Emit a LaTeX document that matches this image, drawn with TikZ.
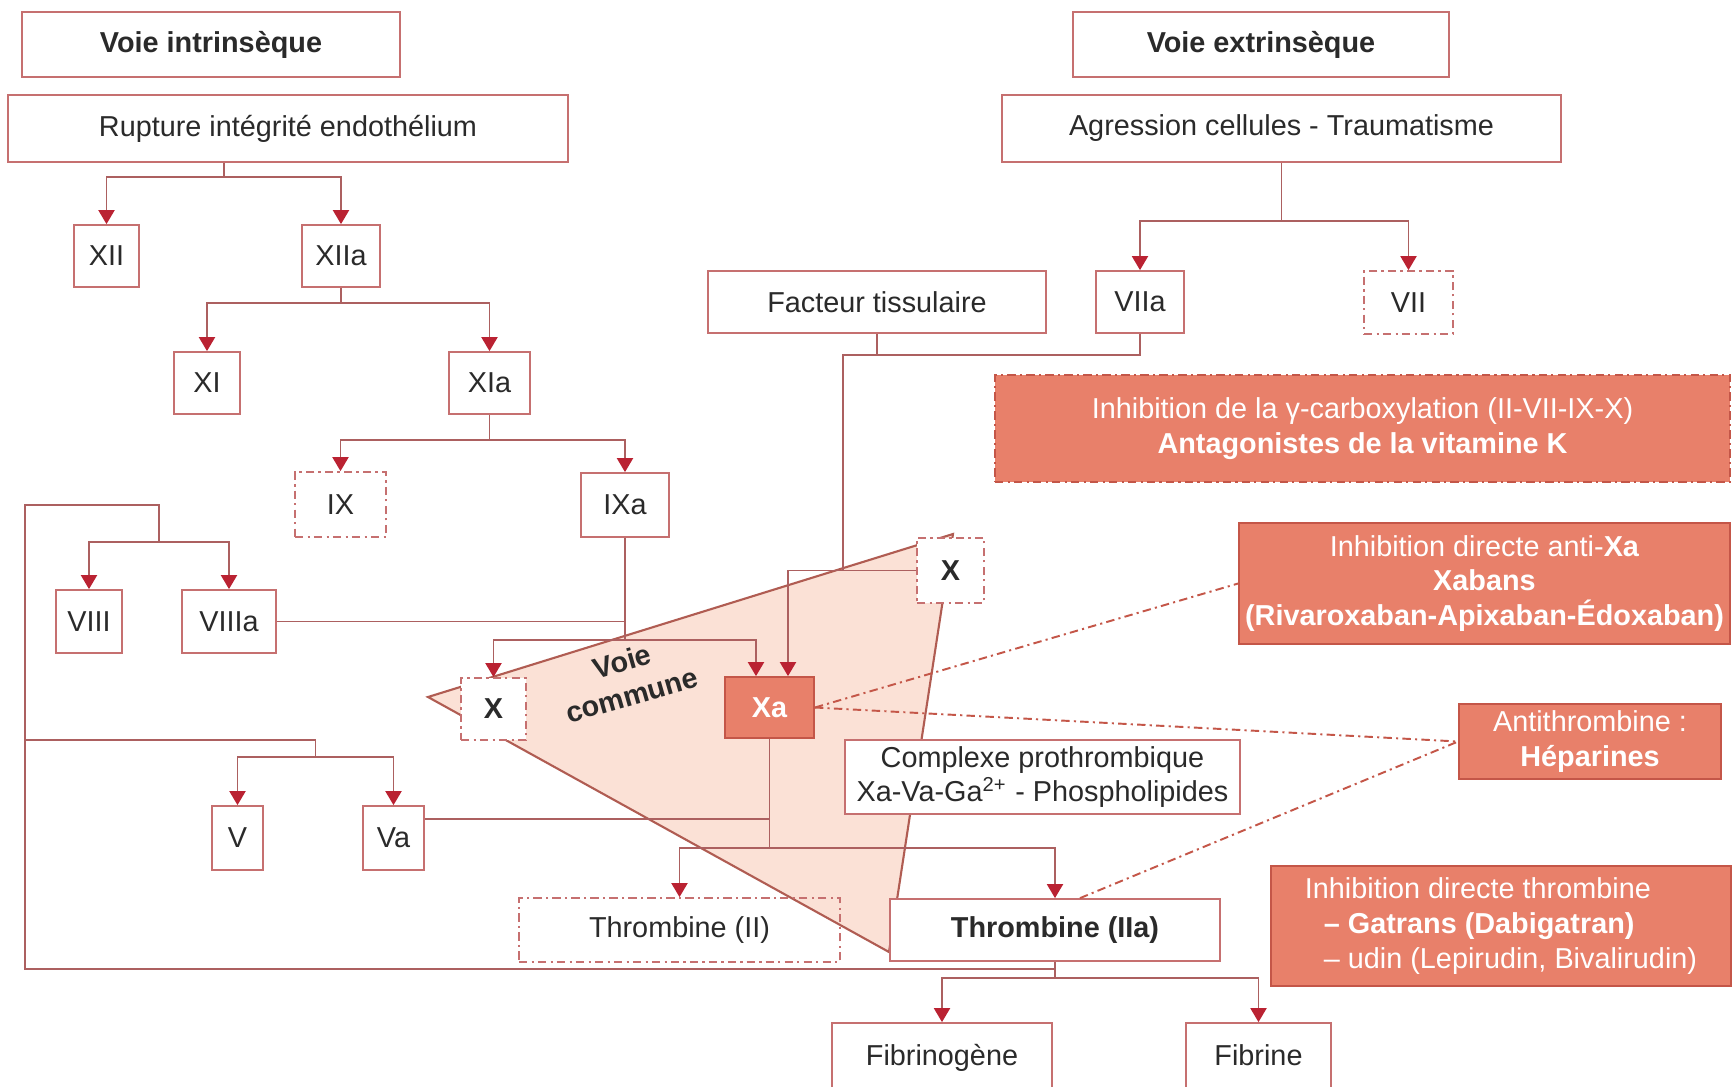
\documentclass[tikz,border=0pt]{standalone}
\usepackage{fontspec}
\setmainfont{Liberation Sans}
\usetikzlibrary{arrows.meta, calc}
\definecolor{boxred}{RGB}{198,112,112}
\definecolor{linered}{RGB}{172,96,96}
\definecolor{arrowred}{RGB}{186,34,50}
\definecolor{salmon}{RGB}{232,128,106}
\definecolor{salmondark}{RGB}{196,86,72}
\definecolor{trifill}{RGB}{251,225,214}
\definecolor{triline}{RGB}{176,92,82}
\definecolor{txtgray}{RGB}{42,42,42}
\newcommand{\diafont}{\fontsize{8.2}{9.9}\selectfont}

\begin{document}
\begin{tikzpicture}[x=0.1mm, y=-0.1mm,
  every node/.style={font=\diafont, text=txtgray, inner sep=0pt, align=center},
  box/.style={draw=boxred, fill=white, line width=0.5pt},
  dbox/.style={box, dash pattern=on 2.4pt off 1.2pt on 0.6pt off 1.2pt},
  sbox/.style={draw=salmondark, fill=salmon, line width=0.5pt, text=white},
  link/.style={draw=linered, line width=0.55pt},
  arr/.style={link, -{Triangle[length=1.4mm, width=1.6mm, color=arrowred]}},
  hint/.style={draw=salmondark, line width=0.55pt, dash pattern=on 2.4pt off 1.2pt on 0.6pt off 1.2pt}]

\useasboundingbox[fill=white] (0,0) rectangle (1732,1086);

% voie commune
\fill[trifill] (428,697) -- (953,534) -- (889,952) -- cycle;
\draw[triline, line width=0.6pt] (428,697) -- (953,534) -- (889,952) -- cycle;

% voie intrinseque
\node[box, minimum width=37.8mm, minimum height=6.5mm, font=\diafont\bfseries] (intr) at (211,44.5) {Voie intrinsèque};
\node[box, minimum width=56mm, minimum height=6.7mm] (rupt) at (288,128.5) {Rupture intégrité endothélium};
\node[box, minimum width=6.5mm, minimum height=6.2mm] (xii) at (106.5,256) {XII};
\node[box, minimum width=7.8mm, minimum height=6.2mm] (xiia) at (341,256) {XIIa};
\node[box, minimum width=6.6mm, minimum height=6.2mm] (xi) at (207,383) {XI};
\node[box, minimum width=8.1mm, minimum height=6.2mm] (xia) at (489.5,383) {XIa};
\node[dbox, minimum width=9.1mm, minimum height=6.5mm] (ix) at (340.5,504.5) {IX};
\node[box, minimum width=8.8mm, minimum height=6.4mm] (ixa) at (625,505) {IXa};
\node[box, minimum width=6.6mm, minimum height=6.3mm] (viii) at (89,621.5) {VIII};
\node[box, minimum width=9.4mm, minimum height=6.3mm] (viiia) at (229,621.5) {VIIIa};
\node[box, minimum width=5.1mm, minimum height=6.4mm] (v) at (237.5,838) {V};
\node[box, minimum width=6.1mm, minimum height=6.4mm] (va) at (393.5,838) {Va};

% voie extrinseque
\node[box, minimum width=37.6mm, minimum height=6.5mm, font=\diafont\bfseries] (extr) at (1261,44.5) {Voie extrinsèque};
\node[box, minimum width=55.9mm, minimum height=6.7mm] (aggr) at (1281.5,128.5) {Agression cellules - Traumatisme};
\node[box, minimum width=33.8mm, minimum height=6.2mm] (ft) at (877,302) {Facteur tissulaire};
\node[box, minimum width=8.8mm, minimum height=6.2mm] (viia) at (1140,302) {VIIa};
\node[dbox, minimum width=8.9mm, minimum height=6.3mm] (vii) at (1408.5,302.5) {VII};

% X, Xa, thrombine
\node[dbox, minimum width=6.5mm, minimum height=6.2mm, font=\diafont\bfseries] (xl) at (493.5,709) {X};
\node[dbox, minimum width=6.7mm, minimum height=6.5mm, font=\diafont\bfseries] (xr) at (950.5,570.5) {X};
\node[sbox, minimum width=8.9mm, minimum height=6.1mm, font=\diafont\bfseries] (xa) at (769.5,707.5) {Xa};
\node[font=\diafont\bfseries, rotate=16] (vc) at (627,678) {Voie\\commune};
\node[box, minimum width=39.5mm, minimum height=7.4mm] (comp) at (1042.5,777) {Complexe prothrombique\\Xa-Va-Ga\textsuperscript{2+} - Phospholipides};
\node[dbox, fill=none, minimum width=32.1mm, minimum height=6.4mm] (thii) at (679.5,930) {Thrombine (II)};
\node[box, minimum width=33mm, minimum height=6.2mm, font=\diafont\bfseries] (thiia) at (1055,930) {Thrombine (IIa)};
\node[box, minimum width=22mm, minimum height=7mm] (fibg) at (942,1058) {Fibrinogène};
\node[box, minimum width=14.5mm, minimum height=7mm] (fib) at (1258.5,1058) {Fibrine\vphantom{g}};

% inhibiteurs
\node[sbox, dash pattern=on 2.4pt off 1.2pt on 0.6pt off 1.2pt, minimum width=73.5mm, minimum height=10.7mm] (avk) at (1362.5,428.5) {Inhibition de la γ-carboxylation (II-VII-IX-X)\\\textbf{Antagonistes de la vitamine K}};
\node[sbox, minimum width=49.1mm, minimum height=12.1mm] (axa) at (1484.5,583.5) {Inhibition directe anti-\textbf{Xa}\\\textbf{Xabans}\\\textbf{(Rivaroxaban-Apixaban-Édoxaban)}};
\node[sbox, minimum width=26.2mm, minimum height=7.5mm] (athr) at (1590,741.5) {Antithrombine :\\\textbf{Héparines}};
\node[sbox, align=left, minimum width=46mm, minimum height=12mm] (dti) at (1501,926) {Inhibition directe thrombine\\\hspace*{1.9mm}\textbf{– Gatrans (Dabigatran)}\\\hspace*{1.9mm}– udin (Lepirudin, Bivalirudin)};

% cascade intrinseque
\coordinate (s1) at ($(xii.north)!.5!(xiia.north)$);
\draw[link] (s1 |- rupt.south) -- ++(0,14) coordinate (b1);
\draw[arr] (b1) -| (xii.north);
\draw[arr] (b1) -| (xiia.north);
\draw[link] (xiia.south) -- ++(0,15) coordinate (b2);
\draw[arr] (b2) -| (xi.north);
\draw[arr] (b2) -| (xia.north);
\draw[link] (xia.south) -- ++(0,25) coordinate (b3);
\draw[arr] (b3) -| (ix.north);
\draw[arr] (b3) -| (ixa.north);
\draw[link] (ixa.south) -- ++(0,102) coordinate (b4);
\draw[arr] (b4) -| (xl.north);
\draw[arr] (b4) -| ([xshift=-1.35mm]xa.north);
\draw[link] (viiia.east) -- (viiia.east -| ixa.south);

% cascade extrinseque
\draw[link] (aggr.south) -- ++(0,58) coordinate (b5);
\draw[arr] (b5) -| (viia.north);
\draw[arr] (b5) -| (vii.north);
\coordinate (tf) at (843,355);
\draw[link] (ft.south) -- (ft.south |- tf);
\draw[link] (viia.south) |- (tf) -- (tf |- xr.west);
\draw[arr] (xr.west) -| ([xshift=1.85mm]xa.north);

% voie commune
\draw[link] (xa.south) -- ++(0,109) coordinate (b7);
\draw[arr] (b7) -| (thii.north);
\draw[arr] (b7) -| (thiia.north);
\draw[link] ([yshift=1.9mm]va.east) -- ([yshift=1.9mm]va.east -| xa.south);
\draw[link] (thiia.south) -- ++(0,16) coordinate (b8);
\draw[arr] (b8) -| (fibg.north);
\draw[arr] (b8) -| (fib.north);

% retro-activation V, VIII
\coordinate (lp) at (25,969);
\coordinate (t8) at (25,505);
\coordinate (t5) at (25,740);
\coordinate (k8) at ($(viii.north)!.5!(viiia.north)$);
\coordinate (k5) at ($(v.north)!.5!(va.north)$);
\draw[link] (thiia.south |- lp) -- (lp) -- (t8) -| ([yshift=4.7mm]k8);
\draw[arr] ([yshift=4.7mm]k8) -| (viii.north);
\draw[arr] ([yshift=4.7mm]k8) -| (viiia.north);
\draw[link] (t5) -| ([yshift=4.8mm]k5);
\draw[arr] ([yshift=4.8mm]k5) -| (v.north);
\draw[arr] ([yshift=4.8mm]k5) -| (va.north);

% cibles des anticoagulants
\draw[hint] (xa.east) -- (axa.west);
\draw[hint] (xa.east) -- (athr.west);
\draw[hint] ([xshift=2.5mm]thiia.north) -- (athr.west);

\end{tikzpicture}
\end{document}
